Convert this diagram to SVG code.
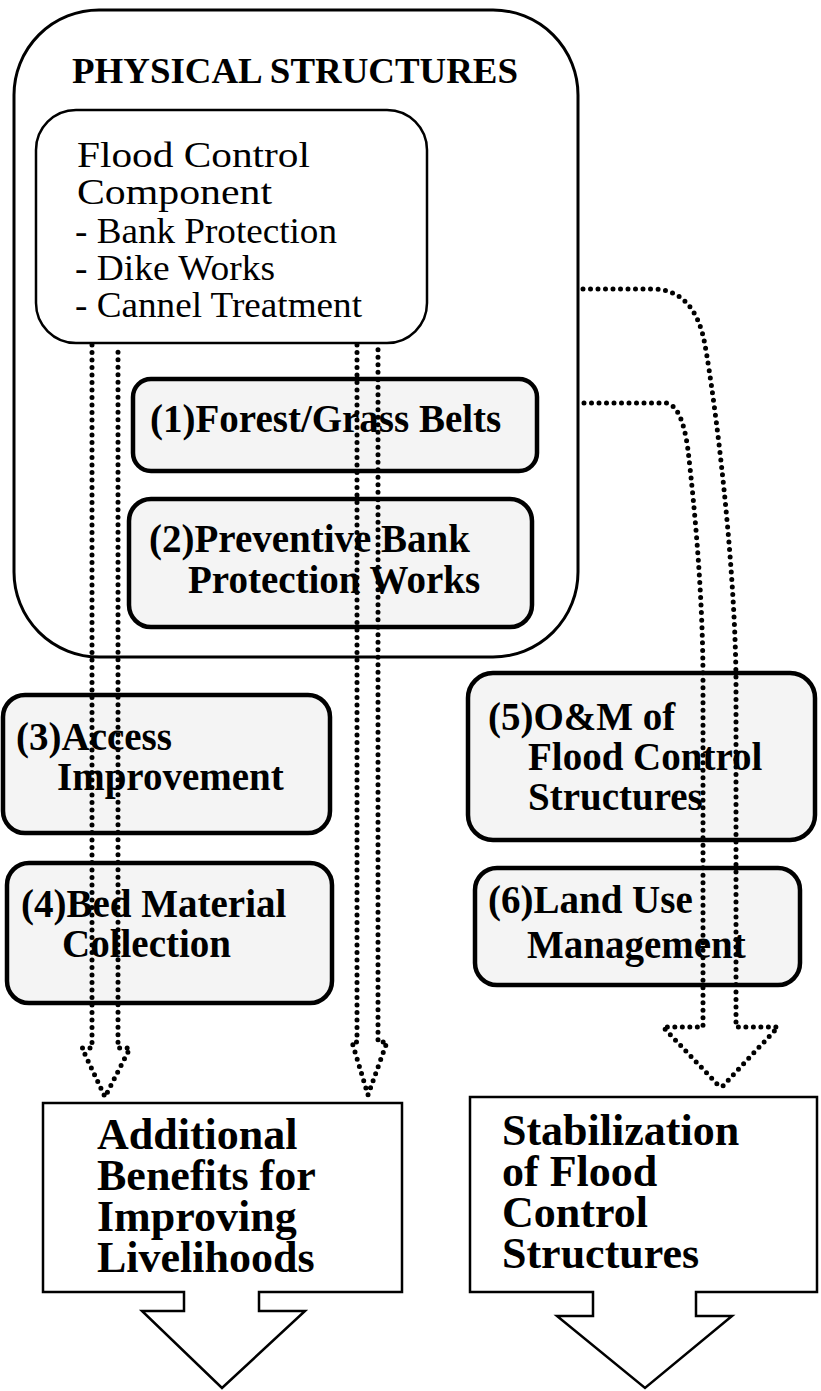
<svg xmlns="http://www.w3.org/2000/svg" width="821" height="1391" viewBox="0 0 821 1391">
  <style>
    .outer { fill: #ffffff; stroke: #000; stroke-width: 3; }
    .inner { fill: #ffffff; stroke: #000; stroke-width: 2.5; }
    .item { fill: #f4f4f4; stroke: #000; stroke-width: 4.5; }
    .result { fill: #ffffff; stroke: #000; stroke-width: 2.5; stroke-linejoin: miter; }
    .dots { fill: none; stroke: #000; stroke-width: 5; stroke-linecap: round; stroke-linejoin: round; stroke-dasharray: 0 7.5; }
    text { font-family: "Liberation Serif", "Times New Roman", serif; fill: #000; }
    .title { font-weight: bold; font-size: 35px; }
    .reg { font-size: 36px; }
    .lbl { font-weight: bold; font-size: 39px; }
    .big { font-weight: bold; font-size: 44px; }
  </style>

  <!-- container: physical structures -->
  <g id="physical-structures">
    <rect class="outer" x="14" y="10" width="564" height="647" rx="85" ry="85"/>
    <text class="title" x="72" y="83" textLength="446" lengthAdjust="spacingAndGlyphs">PHYSICAL STRUCTURES</text>
  </g>

  <g id="flood-control-component">
    <rect class="inner" x="36" y="110" width="391" height="233" rx="40" ry="40"/>
    <text class="reg" x="77" y="167" textLength="233" lengthAdjust="spacingAndGlyphs">Flood Control</text>
    <text class="reg" x="77" y="204" textLength="195" lengthAdjust="spacingAndGlyphs">Component</text>
    <text class="reg" x="75" y="243" textLength="262" lengthAdjust="spacingAndGlyphs">- Bank Protection</text>
    <text class="reg" x="75" y="280" textLength="200" lengthAdjust="spacingAndGlyphs">- Dike Works</text>
    <text class="reg" x="75" y="317" textLength="287" lengthAdjust="spacingAndGlyphs">- Cannel Treatment</text>
  </g>

  <g id="forest-grass-belts">
    <rect class="item" x="133" y="379" width="404" height="92" rx="18" ry="18"/>
    <text class="lbl" x="150" y="432">(1)Forest/Grass Belts</text>
  </g>

  <g id="preventive-bank-protection">
    <rect class="item" x="129" y="499" width="403" height="128" rx="22" ry="22"/>
    <text class="lbl" x="149" y="552">(2)Preventive Bank</text>
    <text class="lbl" x="188" y="593">Protection Works</text>
  </g>

  <g id="access-improvement">
    <rect class="item" x="3" y="695" width="327" height="138" rx="22" ry="22"/>
    <text class="lbl" x="16" y="750">(3)Access</text>
    <text class="lbl" x="57" y="790">Improvement</text>
  </g>

  <g id="bed-material-collection">
    <rect class="item" x="7" y="863" width="325" height="140" rx="22" ry="22"/>
    <text class="lbl" x="21" y="917">(4)Bed Material</text>
    <text class="lbl" x="62" y="957">Collection</text>
  </g>

  <g id="om-flood-control">
    <rect class="item" x="468" y="673" width="347" height="167" rx="25" ry="25"/>
    <text class="lbl" x="488" y="730">(5)O&amp;M of</text>
    <text class="lbl" x="528" y="770">Flood Control</text>
    <text class="lbl" x="528" y="810">Structures</text>
  </g>

  <g id="land-use-management">
    <rect class="item" x="475" y="868" width="325" height="117" rx="22" ry="22"/>
    <text class="lbl" x="488" y="913">(6)Land Use</text>
    <text class="lbl" x="527" y="958">Management</text>
  </g>

  <g id="additional-benefits">
    <path class="result" d="M43,1103 H402 V1292 H259 V1311 H305 L222,1388 L142,1311 H184 V1292 H43 Z"/>
    <text class="big" x="97" y="1149">Additional</text>
    <text class="big" x="97" y="1190">Benefits for</text>
    <text class="big" x="97" y="1231">Improving</text>
    <text class="big" x="97" y="1272">Livelihoods</text>
  </g>

  <g id="stabilization">
    <path class="result" d="M470,1097 H817 V1292 H696 V1316 H732 L645,1388 L557,1316 H593 V1292 H470 Z"/>
    <text class="big" x="502" y="1145">Stabilization</text>
    <text class="big" x="502" y="1186">of Flood</text>
    <text class="big" x="502" y="1227">Control</text>
    <text class="big" x="502" y="1268">Structures</text>
  </g>

  <!-- dotted hollow arrows -->
  <g id="connectors">
    <path class="dots" d="M92,345 V1048 H82 L105,1097 L130,1048 H118 V345"/>
    <path class="dots" d="M357,345 V1042 H352 L368,1095 L387,1042 H378 V345"/>
    <path class="dots" d="M583,289 H652 Q695,289 705,345 C715,400 735,560 736,680 V1027 H778 L721,1088"/>
    <path class="dots" d="M584,403 H666 Q682,405 688,450 C695,510 703,600 703,680 V1027 H663 L721,1088"/>
  </g>
</svg>
